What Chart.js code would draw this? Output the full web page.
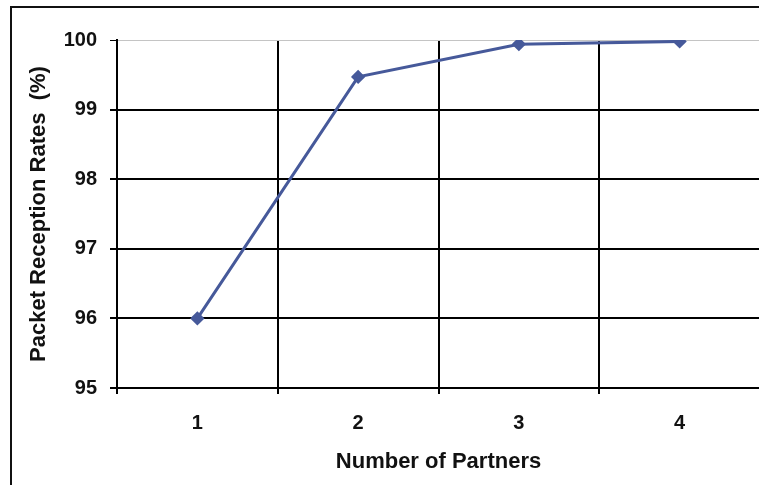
<!DOCTYPE html>
<html lang="en">
<head>
  <meta charset="UTF-8" />
  <title>Packet Reception Rates</title>
  <script src="https://cdn.jsdelivr.net/npm/chart.js"></script>
  <style>
    body {
      margin: 0;
      background: #fff;
      overflow: hidden;
      width: 759px;
      height: 485px;
      position: relative;
    }
    .frame {
      position: absolute;
      left: 10px;
      top: 6px;
      width: 760px;
      height: 490px;
      border-left: 2px solid #111;
      border-top: 2px solid #111;
    }
    #chart {
      position: absolute;
      left: 0;
      top: 0;
    }
  </style>
</head>
<body>
  <div class="frame"></div>
  <canvas id="chart" width="768" height="485"></canvas>

  <script>
    const partners = ['1', '2', '3', '4'];
    const receptionRates = [96.0, 99.47, 99.94, 99.98];
    const yTicks = [95, 96, 97, 98, 99, 100];

    const lineColor = '#46599a';
    const fontFamily = "'Liberation Sans', Arial, sans-serif";

    new Chart(document.getElementById('chart'), {
      type: 'line',
      data: {
        labels: partners,
        datasets: [{
          label: 'Packet Reception Rates',
          data: receptionRates,
          borderColor: lineColor,
          backgroundColor: lineColor,
          borderWidth: 3,
          pointStyle: 'rectRot',
          pointRadius: 5,
          tension: 0
        }]
      },
      options: {
        responsive: false,
        animation: false,
        layout: { padding: { top: 40, left: 0, right: 1, bottom: 0 } },
        plugins: {
          legend: { display: false },
          tooltip: { enabled: false }
        },
        scales: {
          x: {
            offset: true,
            grid: {
              offset: true,
              color: '#000',
              lineWidth: 2,
              tickLength: 6,
              tickColor: '#000'
            },
            border: { color: '#000', width: 2 },
            ticks: {
              color: '#111',
              padding: 17,
              font: { family: fontFamily, size: 20, weight: 'bold' }
            },
            title: {
              display: true,
              text: 'Number of Partners',
              color: '#111',
              padding: { top: 0, bottom: 10 },
              font: { family: fontFamily, size: 22, weight: 'bold' }
            },
            afterFit: (scale) => { scale.height = 97; }
          },
          y: {
            min: 95,
            max: 100,
            afterBuildTicks: (scale) => {
              scale.ticks = yTicks.map(v => ({ value: v }));
            },
            grid: {
              color: (ctx) => ctx.tick && ctx.tick.value === 100 ? '#c4c4c4' : '#000',
              lineWidth: (ctx) => ctx.tick && ctx.tick.value === 100 ? 1 : 2,
              tickLength: 7,
              tickColor: '#000'
            },
            border: { color: '#000', width: 2 },
            ticks: {
              color: '#111',
              padding: 13,
              font: { family: fontFamily, size: 20, weight: 'bold' }
            },
            title: {
              display: true,
              text: 'Packet Reception Rates  (%)',
              color: '#111',
              padding: { top: 26, bottom: 0 },
              font: { family: fontFamily, size: 22, weight: 'bold' }
            },
            afterFit: (scale) => { scale.width = 117; }
          }
        }
      }
    });
  </script>
</body>
</html>
